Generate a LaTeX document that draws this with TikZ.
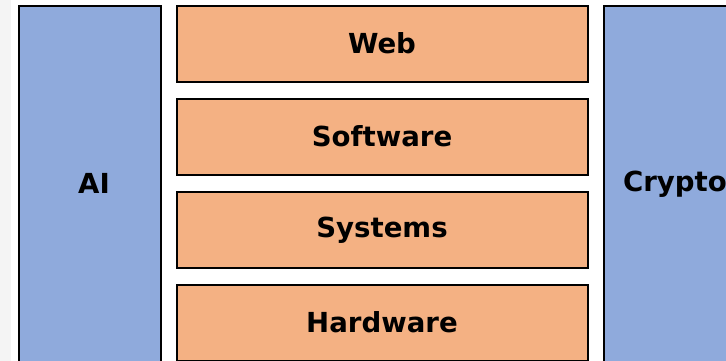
\documentclass[tikz,border=0pt]{standalone}
\usepackage{fontspec}
\setmainfont{DejaVu Sans}
\definecolor{boxblue}{HTML}{8FAADC}
\definecolor{boxorange}{HTML}{F4B183}
\definecolor{stripgray}{HTML}{F4F4F4}
\tikzset{
  layer/.style={draw=black, line width=1.5pt, rectangle, inner sep=0pt,
    font=\bfseries\fontsize{27.6}{32}\selectfont, text=black},
  side/.style={layer, fill=boxblue, minimum width=142pt, minimum height=356pt},
  core/.style={layer, fill=boxorange, minimum width=411pt, minimum height=76pt},
  label/.style={font=\bfseries\fontsize{27.6}{32}\selectfont, text=black, inner sep=0pt}
}
\begin{document}
\begin{tikzpicture}[x=1pt, y=-1pt]
\useasboundingbox (0,0) rectangle (726,361);
\clip (0,0) rectangle (726,361);
\fill[white] (0,0) rectangle (726,361);
\fill[stripgray] (0,0) rectangle (11,361);
\node[side] (ai) at (90,184) {};
\node[label] (ailabel) at (94,183) {AI};
\node[side] (crypto) at (675,184) {Crypto};
\node[core] (web) at (382.5,44) {};
\node[label] (weblabel) at (382,43) {Web};
\node[core] (software) at (382.5,137) {};
\node[label] (softwarelabel) at (382,136) {Software};
\node[core] (systems) at (382.5,230) {};
\node[label] (systemslabel) at (382,230) {Systems};
\node[core] (hardware) at (382.5,323) {};
\node[label] (hardwarelabel) at (382,322) {Hardware};
\end{tikzpicture}
\end{document}
